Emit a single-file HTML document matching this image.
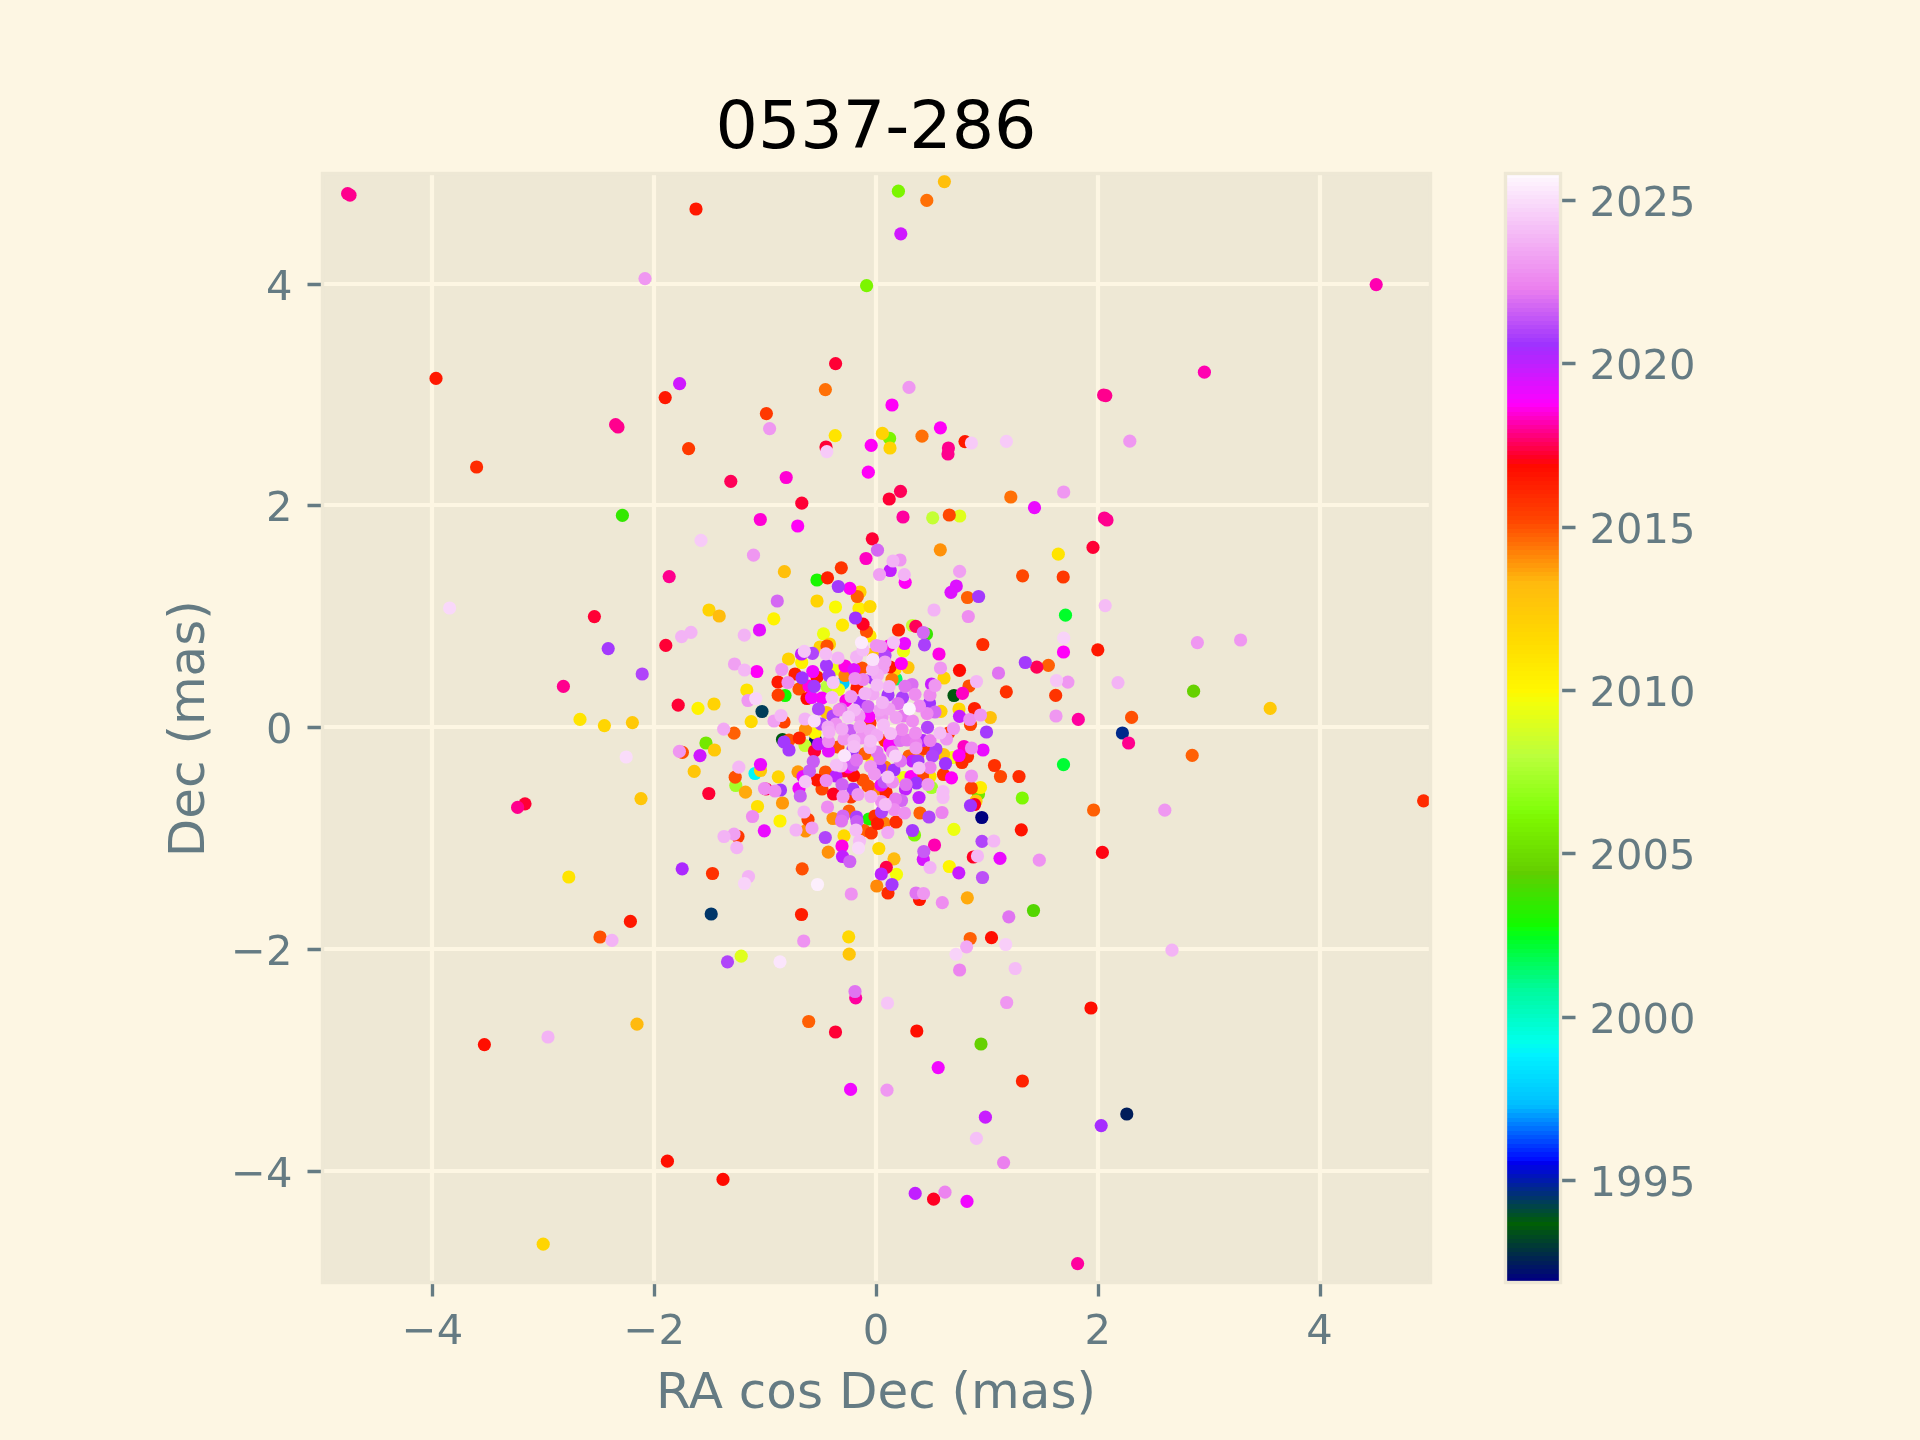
<!DOCTYPE html>
<html><head><meta charset="utf-8"><title>0537-286</title>
<style>html,body{margin:0;padding:0;background:#fdf6e3;width:1920px;height:1440px;overflow:hidden}</style>
</head><body>
<svg width="1920" height="1440" viewBox="0 0 1920 1440" style="display:block;will-change:transform">
<defs><clipPath id="ax"><rect x="322" y="173" width="1108" height="1109"/></clipPath></defs>
<rect x="0" y="0" width="1920" height="1440" fill="#fdf6e3"/>
<rect x="322" y="173" width="1108" height="1109" fill="#eee8d5"/>
<path d="M432 1282V173M654 1282V173M876 1282V173M1098 1282V173M1320 1282V173M322 1171H1430M322 949H1430M322 727H1430M322 505H1430M322 284H1430" clip-path="url(#ax)" fill="none" stroke="#fdf6e3" stroke-width="4.17"/>
<path d="M432.5 1282.5V1296.5M654.5 1282.5V1296.5M876.5 1282.5V1296.5M1098.5 1282.5V1296.5M1320.5 1282.5V1296.5M322.5 1171.5H307.5M322.5 949.5H307.5M322.5 727.5H307.5M322.5 505.5H307.5M322.5 284.5H307.5" fill="none" stroke="#657b83" stroke-width="3.33"/>
<text x="432.48" y="1344" text-anchor="middle" fill="#657b83" style="font-size:41.67px;font-family:'DejaVu Sans',sans-serif">−4</text>
<text x="654.24" y="1344" text-anchor="middle" fill="#657b83" style="font-size:41.67px;font-family:'DejaVu Sans',sans-serif">−2</text>
<text x="876" y="1344" text-anchor="middle" fill="#657b83" style="font-size:41.67px;font-family:'DejaVu Sans',sans-serif">0</text>
<text x="1097.76" y="1344" text-anchor="middle" fill="#657b83" style="font-size:41.67px;font-family:'DejaVu Sans',sans-serif">2</text>
<text x="1319.52" y="1344" text-anchor="middle" fill="#657b83" style="font-size:41.67px;font-family:'DejaVu Sans',sans-serif">4</text>
<text x="292.43" y="1186.55" text-anchor="end" fill="#657b83" style="font-size:41.67px;font-family:'DejaVu Sans',sans-serif">−4</text>
<text x="292.43" y="964.79" text-anchor="end" fill="#657b83" style="font-size:41.67px;font-family:'DejaVu Sans',sans-serif">−2</text>
<text x="292.43" y="743.03" text-anchor="end" fill="#657b83" style="font-size:41.67px;font-family:'DejaVu Sans',sans-serif">0</text>
<text x="292.43" y="521.27" text-anchor="end" fill="#657b83" style="font-size:41.67px;font-family:'DejaVu Sans',sans-serif">2</text>
<text x="292.43" y="299.51" text-anchor="end" fill="#657b83" style="font-size:41.67px;font-family:'DejaVu Sans',sans-serif">4</text>
<text x="876" y="1407.62" text-anchor="middle" fill="#657b83" style="font-size:50px;font-family:'DejaVu Sans',sans-serif">RA cos Dec (mas)</text>
<text x="203.94" y="728.71" text-anchor="middle" fill="#657b83" transform="rotate(-90 203.94 728.71)" style="font-size:50px;font-family:'DejaVu Sans',sans-serif">Dec (mas)</text>
<g clip-path="url(#ax)"><circle cx="981.8" cy="817.5" r="6.6" fill="#000080"/><circle cx="815.5" cy="740" r="6.6" fill="#000f6d"/><circle cx="1126.8" cy="1114" r="6.6" fill="#001d5a"/><circle cx="782.5" cy="739.5" r="6.6" fill="#00580f"/><circle cx="954" cy="695.5" r="6.6" fill="#00580f"/><circle cx="762" cy="711.5" r="6.6" fill="#003d59"/><circle cx="711.2" cy="914" r="6.6" fill="#003669"/><circle cx="1122.4" cy="733" r="6.6" fill="#00298b"/><circle cx="843" cy="683" r="6.6" fill="#00caff"/><circle cx="755" cy="773.5" r="6.6" fill="#00f6f8"/><circle cx="896" cy="679" r="6.6" fill="#00fb68"/><circle cx="1063.5" cy="764.7" r="6.6" fill="#00fd34"/><circle cx="1065.5" cy="615.2" r="6.6" fill="#00fe2a"/><circle cx="785" cy="695.5" r="6.6" fill="#13fb00"/><circle cx="817" cy="580" r="6.6" fill="#19f700"/><circle cx="869" cy="819" r="6.6" fill="#19f700"/><circle cx="622.4" cy="515.4" r="6.6" fill="#33e800"/><circle cx="926.5" cy="634" r="6.6" fill="#39e500"/><circle cx="1033.5" cy="910.5" r="6.6" fill="#53d600"/><circle cx="1193.6" cy="691.2" r="6.6" fill="#66d100"/><circle cx="981" cy="1044" r="6.6" fill="#66d100"/><circle cx="706" cy="743" r="6.6" fill="#74e800"/><circle cx="978.5" cy="794" r="6.6" fill="#74e800"/><circle cx="898.4" cy="191.2" r="6.6" fill="#7cf500"/><circle cx="866.6" cy="285.6" r="6.6" fill="#7cf500"/><circle cx="889.6" cy="438.4" r="6.6" fill="#7cf500"/><circle cx="1022.3" cy="798" r="6.6" fill="#7ef804"/><circle cx="914.5" cy="835" r="6.6" fill="#7ef804"/><circle cx="735.8" cy="785.5" r="6.6" fill="#a4ff28"/><circle cx="931.5" cy="787.5" r="6.6" fill="#a4ff28"/><circle cx="827" cy="686.5" r="6.6" fill="#bbff3c"/><circle cx="932.7" cy="517.8" r="6.6" fill="#c4ff34"/><circle cx="805" cy="745.5" r="6.6" fill="#c4ff34"/><circle cx="912.5" cy="625.5" r="6.6" fill="#c4ff34"/><circle cx="959.7" cy="516" r="6.6" fill="#dfff1c"/><circle cx="741.2" cy="956.2" r="6.6" fill="#dfff1c"/><circle cx="823.5" cy="633.8" r="6.6" fill="#edff10"/><circle cx="837" cy="669" r="6.6" fill="#edff10"/><circle cx="838.5" cy="689.5" r="6.6" fill="#edff10"/><circle cx="903.5" cy="651" r="6.6" fill="#edff10"/><circle cx="903.5" cy="777.5" r="6.6" fill="#edff10"/><circle cx="952.5" cy="757.5" r="6.6" fill="#edff10"/><circle cx="953.9" cy="829.3" r="6.6" fill="#edff10"/><circle cx="896.5" cy="874.3" r="6.6" fill="#f6fd08"/><circle cx="835.5" cy="607" r="6.6" fill="#fafa04"/><circle cx="815" cy="733" r="6.6" fill="#fff800"/><circle cx="949.3" cy="866.5" r="6.6" fill="#fff500"/><circle cx="698" cy="708.4" r="6.6" fill="#fff300"/><circle cx="773.8" cy="618.8" r="6.6" fill="#fff300"/><circle cx="801.7" cy="662.5" r="6.6" fill="#fff300"/><circle cx="780" cy="821" r="6.6" fill="#fff300"/><circle cx="859" cy="608.5" r="6.6" fill="#ffee00"/><circle cx="980.5" cy="787.5" r="6.6" fill="#ffee00"/><circle cx="872" cy="759.5" r="6.6" fill="#ffeb00"/><circle cx="870" cy="636" r="6.6" fill="#ffe900"/><circle cx="842.5" cy="625.2" r="6.6" fill="#ffe900"/><circle cx="835.2" cy="435.6" r="6.6" fill="#ffe400"/><circle cx="580" cy="719.4" r="6.6" fill="#ffe400"/><circle cx="568.8" cy="877" r="6.6" fill="#ffe400"/><circle cx="1058.3" cy="554.2" r="6.6" fill="#ffe400"/><circle cx="746.8" cy="690" r="6.6" fill="#ffe400"/><circle cx="930" cy="776.5" r="6.6" fill="#ffe400"/><circle cx="757.5" cy="806.5" r="6.6" fill="#ffe100"/><circle cx="751.2" cy="721.7" r="6.6" fill="#ffda00"/><circle cx="870" cy="606.5" r="6.6" fill="#ffda00"/><circle cx="844" cy="835.8" r="6.6" fill="#ffda00"/><circle cx="878.8" cy="848.5" r="6.6" fill="#ffda00"/><circle cx="895" cy="669.5" r="6.6" fill="#ffd801"/><circle cx="959" cy="709" r="6.6" fill="#ffd801"/><circle cx="848.7" cy="936.8" r="6.6" fill="#ffd801"/><circle cx="604.4" cy="725.6" r="6.6" fill="#ffd502"/><circle cx="543.2" cy="1244.2" r="6.6" fill="#ffd502"/><circle cx="778.3" cy="776.8" r="6.6" fill="#ffd502"/><circle cx="882.4" cy="433.4" r="6.6" fill="#ffd303"/><circle cx="890" cy="448" r="6.6" fill="#ffd303"/><circle cx="860" cy="592" r="6.6" fill="#ffd303"/><circle cx="817" cy="601" r="6.6" fill="#ffd303"/><circle cx="709" cy="610" r="6.6" fill="#ffd303"/><circle cx="820" cy="647" r="6.6" fill="#ffd303"/><circle cx="829.5" cy="644" r="6.6" fill="#ffd303"/><circle cx="788.5" cy="659" r="6.6" fill="#ffd303"/><circle cx="714" cy="704" r="6.6" fill="#ffd303"/><circle cx="944" cy="678" r="6.6" fill="#ffd303"/><circle cx="941" cy="711.3" r="6.6" fill="#ffd303"/><circle cx="632.4" cy="722.6" r="6.6" fill="#ffc908"/><circle cx="1270.2" cy="708.4" r="6.6" fill="#ffc908"/><circle cx="826.5" cy="712.5" r="6.6" fill="#ffc908"/><circle cx="714.5" cy="750" r="6.6" fill="#ffc908"/><circle cx="760.5" cy="770.5" r="6.6" fill="#ffc908"/><circle cx="976" cy="801" r="6.6" fill="#ffc908"/><circle cx="873.5" cy="653.5" r="6.6" fill="#ffc609"/><circle cx="694.2" cy="771.4" r="6.6" fill="#ffc609"/><circle cx="641" cy="798.6" r="6.6" fill="#ffc609"/><circle cx="849.2" cy="954.2" r="6.6" fill="#ffc609"/><circle cx="908" cy="667.5" r="6.6" fill="#ffc40a"/><circle cx="943.5" cy="754.5" r="6.6" fill="#ffc40a"/><circle cx="990.3" cy="717.5" r="6.6" fill="#ffc10b"/><circle cx="944.4" cy="181.6" r="6.6" fill="#ffbf0c"/><circle cx="784.4" cy="571.7" r="6.6" fill="#ffbf0c"/><circle cx="719.2" cy="616" r="6.6" fill="#ffbc0d"/><circle cx="894" cy="858.8" r="6.6" fill="#ffbc0d"/><circle cx="637" cy="1024.2" r="6.6" fill="#ffba0e"/><circle cx="745.5" cy="792.2" r="6.6" fill="#ffaa0c"/><circle cx="967.3" cy="897.8" r="6.6" fill="#ffaa0c"/><circle cx="798" cy="771.8" r="6.6" fill="#ff990a"/><circle cx="782.5" cy="803" r="6.6" fill="#ff990a"/><circle cx="940.3" cy="549.8" r="6.6" fill="#ff9109"/><circle cx="805.5" cy="729.5" r="6.6" fill="#ff9109"/><circle cx="833" cy="818.5" r="6.6" fill="#ff9109"/><circle cx="805.5" cy="831" r="6.6" fill="#ff9109"/><circle cx="828.3" cy="852.2" r="6.6" fill="#ff9109"/><circle cx="918" cy="754.5" r="6.6" fill="#ff8908"/><circle cx="885" cy="767" r="6.6" fill="#ff8908"/><circle cx="876.5" cy="789" r="6.6" fill="#ff8908"/><circle cx="876.8" cy="886" r="6.6" fill="#ff8908"/><circle cx="845" cy="675.5" r="6.6" fill="#ff8107"/><circle cx="884" cy="823" r="6.6" fill="#ff8107"/><circle cx="892" cy="679.5" r="6.6" fill="#ff7807"/><circle cx="926.8" cy="200.4" r="6.6" fill="#ff7006"/><circle cx="825.4" cy="389.6" r="6.6" fill="#ff7006"/><circle cx="922" cy="436.2" r="6.6" fill="#ff7006"/><circle cx="1010.8" cy="497" r="6.6" fill="#ff7006"/><circle cx="1093.6" cy="810" r="6.6" fill="#ff6004"/><circle cx="857.3" cy="596.5" r="6.6" fill="#ff6004"/><circle cx="967.5" cy="597.5" r="6.6" fill="#ff6004"/><circle cx="1048.4" cy="665.3" r="6.6" fill="#ff6004"/><circle cx="808.7" cy="1021.5" r="6.6" fill="#ff6004"/><circle cx="970.2" cy="938.5" r="6.6" fill="#ff6004"/><circle cx="1192.2" cy="755.4" r="6.6" fill="#ff6004"/><circle cx="734" cy="733.2" r="6.6" fill="#ff6004"/><circle cx="865" cy="753.5" r="6.6" fill="#ff6004"/><circle cx="909" cy="756" r="6.6" fill="#ff6004"/><circle cx="849" cy="811" r="6.6" fill="#ff6004"/><circle cx="920" cy="813" r="6.6" fill="#ff6004"/><circle cx="864" cy="830.5" r="6.6" fill="#ff6004"/><circle cx="1131.6" cy="717.4" r="6.6" fill="#ff5002"/><circle cx="682.4" cy="752.4" r="6.6" fill="#ff5002"/><circle cx="600" cy="937" r="6.6" fill="#ff5002"/><circle cx="827" cy="646" r="6.6" fill="#ff5002"/><circle cx="799" cy="689" r="6.6" fill="#ff5002"/><circle cx="789" cy="740" r="6.6" fill="#ff5002"/><circle cx="866.5" cy="631.5" r="6.6" fill="#ff5002"/><circle cx="862" cy="668" r="6.6" fill="#ff5002"/><circle cx="969" cy="686" r="6.6" fill="#ff5002"/><circle cx="838" cy="747" r="6.6" fill="#ff5002"/><circle cx="735.2" cy="777.2" r="6.6" fill="#ff5002"/><circle cx="825.5" cy="772" r="6.6" fill="#ff5002"/><circle cx="802.2" cy="868.8" r="6.6" fill="#ff5002"/><circle cx="863" cy="780" r="6.6" fill="#ff5002"/><circle cx="868" cy="786" r="6.6" fill="#ff5002"/><circle cx="949.3" cy="515" r="6.6" fill="#ff4701"/><circle cx="1022.6" cy="575.8" r="6.6" fill="#ff4701"/><circle cx="1000.5" cy="776.5" r="6.6" fill="#ff4701"/><circle cx="822" cy="789" r="6.6" fill="#ff4701"/><circle cx="922.5" cy="776" r="6.6" fill="#ff4701"/><circle cx="784" cy="722" r="6.6" fill="#ff4300"/><circle cx="970.5" cy="724.5" r="6.6" fill="#ff4300"/><circle cx="778.2" cy="695.2" r="6.6" fill="#ff3e00"/><circle cx="808" cy="819.5" r="6.6" fill="#ff3e00"/><circle cx="971.3" cy="788" r="6.6" fill="#ff3e00"/><circle cx="688.6" cy="448.6" r="6.6" fill="#ff3900"/><circle cx="766.4" cy="413.6" r="6.6" fill="#ff3900"/><circle cx="1063.2" cy="577" r="6.6" fill="#ff3900"/><circle cx="948.5" cy="733" r="6.6" fill="#ff3900"/><circle cx="924" cy="748.5" r="6.6" fill="#ff3900"/><circle cx="870" cy="723" r="6.6" fill="#ff3900"/><circle cx="885" cy="740.5" r="6.6" fill="#ff3900"/><circle cx="738" cy="836.5" r="6.6" fill="#ff3900"/><circle cx="851" cy="797" r="6.6" fill="#ff3900"/><circle cx="871.3" cy="833" r="6.6" fill="#ff3900"/><circle cx="841.3" cy="567.8" r="6.6" fill="#ff3400"/><circle cx="1055.7" cy="695.4" r="6.6" fill="#ff3400"/><circle cx="943.5" cy="774.5" r="6.6" fill="#ff3400"/><circle cx="1006.3" cy="691.8" r="6.6" fill="#ff3000"/><circle cx="712.5" cy="873.5" r="6.6" fill="#ff3000"/><circle cx="875" cy="816" r="6.6" fill="#ff3000"/><circle cx="994.5" cy="765.5" r="6.6" fill="#ff3000"/><circle cx="982.8" cy="644.5" r="6.6" fill="#ff2b00"/><circle cx="967.5" cy="756.5" r="6.6" fill="#ff2b00"/><circle cx="962" cy="762.5" r="6.6" fill="#ff2b00"/><circle cx="1019" cy="776.5" r="6.6" fill="#ff2b00"/><circle cx="476.6" cy="467" r="6.6" fill="#ff2b00"/><circle cx="1423.6" cy="800.8" r="6.6" fill="#ff2b00"/><circle cx="896" cy="822" r="6.6" fill="#ff2b00"/><circle cx="888" cy="893" r="6.6" fill="#ff2b00"/><circle cx="1022.4" cy="1081" r="6.6" fill="#ff2100"/><circle cx="827.5" cy="577.8" r="6.6" fill="#ff2100"/><circle cx="799.3" cy="738" r="6.6" fill="#ff2100"/><circle cx="898.5" cy="630" r="6.6" fill="#ff2100"/><circle cx="886" cy="792" r="6.6" fill="#ff2100"/><circle cx="795" cy="674" r="6.6" fill="#ff1d00"/><circle cx="857" cy="688" r="6.6" fill="#ff1d00"/><circle cx="974.5" cy="708.5" r="6.6" fill="#ff1d00"/><circle cx="877.5" cy="823.5" r="6.6" fill="#ff1d00"/><circle cx="801.5" cy="914.5" r="6.6" fill="#ff1d00"/><circle cx="696" cy="209" r="6.6" fill="#ff1800"/><circle cx="436" cy="378.4" r="6.6" fill="#ff1800"/><circle cx="665.2" cy="397.6" r="6.6" fill="#ff1800"/><circle cx="965" cy="441.6" r="6.6" fill="#ff1800"/><circle cx="1097.8" cy="649.8" r="6.6" fill="#ff1800"/><circle cx="630.4" cy="921.4" r="6.6" fill="#ff1800"/><circle cx="817" cy="677" r="6.6" fill="#ff1800"/><circle cx="778" cy="682" r="6.6" fill="#ff1800"/><circle cx="890" cy="667" r="6.6" fill="#ff1800"/><circle cx="919.5" cy="899.5" r="6.6" fill="#ff1800"/><circle cx="817" cy="780" r="6.6" fill="#ff1300"/><circle cx="1021.3" cy="829.8" r="6.6" fill="#ff1300"/><circle cx="1091" cy="1008" r="6.6" fill="#ff0e00"/><circle cx="484.4" cy="1044.6" r="6.6" fill="#ff0e00"/><circle cx="667.4" cy="1161.2" r="6.6" fill="#ff0e00"/><circle cx="991.5" cy="937.7" r="6.6" fill="#ff0e00"/><circle cx="916.8" cy="1031" r="6.6" fill="#ff0e00"/><circle cx="807" cy="698.5" r="6.6" fill="#ff0e00"/><circle cx="853.5" cy="775.5" r="6.6" fill="#ff0e00"/><circle cx="723" cy="1179.4" r="6.6" fill="#ff0a00"/><circle cx="959.5" cy="670.3" r="6.6" fill="#ff0a00"/><circle cx="1102.4" cy="852.4" r="6.6" fill="#ff0512"/><circle cx="933.6" cy="1199.2" r="6.6" fill="#ff0023"/><circle cx="863" cy="624.2" r="6.6" fill="#ff0023"/><circle cx="833.5" cy="794" r="6.6" fill="#ff0023"/><circle cx="974.5" cy="804.5" r="6.6" fill="#ff0023"/><circle cx="973.3" cy="857" r="6.6" fill="#ff0023"/><circle cx="835.6" cy="363.6" r="6.6" fill="#ff0035"/><circle cx="826" cy="447" r="6.6" fill="#ff0035"/><circle cx="594.4" cy="616.6" r="6.6" fill="#ff0035"/><circle cx="665.8" cy="645.4" r="6.6" fill="#ff0035"/><circle cx="678.2" cy="705.2" r="6.6" fill="#ff0035"/><circle cx="1093" cy="547.4" r="6.6" fill="#ff0035"/><circle cx="525" cy="803.8" r="6.6" fill="#ff0035"/><circle cx="801.8" cy="503.2" r="6.6" fill="#ff0035"/><circle cx="889.2" cy="499" r="6.6" fill="#ff0035"/><circle cx="872.3" cy="538.8" r="6.6" fill="#ff0035"/><circle cx="814.5" cy="751" r="6.6" fill="#ff0035"/><circle cx="708.8" cy="793.5" r="6.6" fill="#ff0035"/><circle cx="844" cy="771" r="6.6" fill="#ff0035"/><circle cx="835.5" cy="1032" r="6.6" fill="#ff0035"/><circle cx="886.3" cy="867.3" r="6.6" fill="#ff0047"/><circle cx="900.5" cy="491.3" r="6.6" fill="#ff0058"/><circle cx="915.8" cy="626.3" r="6.6" fill="#ff0058"/><circle cx="1036.8" cy="667.2" r="6.6" fill="#ff0058"/><circle cx="766" cy="789" r="6.6" fill="#ff0058"/><circle cx="730.8" cy="481.3" r="6.6" fill="#ff0058"/><circle cx="347.6" cy="193.6" r="6.6" fill="#ff008e"/><circle cx="350" cy="195.2" r="6.6" fill="#ff008e"/><circle cx="615.6" cy="424.6" r="6.6" fill="#ff008e"/><circle cx="618" cy="427" r="6.6" fill="#ff008e"/><circle cx="948.4" cy="448" r="6.6" fill="#ff008e"/><circle cx="948" cy="454" r="6.6" fill="#ff008e"/><circle cx="1103.6" cy="395" r="6.6" fill="#ff008e"/><circle cx="1105.8" cy="395.6" r="6.6" fill="#ff008e"/><circle cx="669.2" cy="576.6" r="6.6" fill="#ff008e"/><circle cx="563.4" cy="686.4" r="6.6" fill="#ff008e"/><circle cx="1104.4" cy="518" r="6.6" fill="#ff008e"/><circle cx="1107" cy="520" r="6.6" fill="#ff008e"/><circle cx="1128.6" cy="743" r="6.6" fill="#ff008e"/><circle cx="517.6" cy="807.4" r="6.6" fill="#ff008e"/><circle cx="1077.6" cy="1263.6" r="6.6" fill="#ff009f"/><circle cx="903" cy="517" r="6.6" fill="#ff009f"/><circle cx="1078.3" cy="719.4" r="6.6" fill="#ff009f"/><circle cx="855.7" cy="997.8" r="6.6" fill="#ff009f"/><circle cx="1376.2" cy="284.6" r="6.6" fill="#ff00b1"/><circle cx="1204.4" cy="372.2" r="6.6" fill="#ff00b1"/><circle cx="934.5" cy="845" r="6.6" fill="#ff00b1"/><circle cx="866" cy="558.5" r="6.6" fill="#ff00c3"/><circle cx="962.5" cy="693.3" r="6.6" fill="#ff00c3"/><circle cx="964" cy="746.5" r="6.6" fill="#ff00c3"/><circle cx="786.2" cy="477.5" r="6.6" fill="#ff00d5"/><circle cx="760.3" cy="519.5" r="6.6" fill="#ff00d5"/><circle cx="809" cy="686" r="6.6" fill="#ff00e6"/><circle cx="888.8" cy="646" r="6.6" fill="#ff00e6"/><circle cx="845" cy="666" r="6.6" fill="#ff00e6"/><circle cx="939" cy="654" r="6.6" fill="#ff00e6"/><circle cx="846" cy="700.5" r="6.6" fill="#ff00e6"/><circle cx="842" cy="846" r="6.6" fill="#ff00e6"/><circle cx="848.5" cy="767" r="6.6" fill="#ff00f8"/><circle cx="911" cy="776.5" r="6.6" fill="#ff00f8"/><circle cx="892" cy="405" r="6.6" fill="#ff00f8"/><circle cx="940.4" cy="427.8" r="6.6" fill="#ff00f8"/><circle cx="871.2" cy="445.4" r="6.6" fill="#ff00f8"/><circle cx="868.3" cy="472.2" r="6.6" fill="#ff00f8"/><circle cx="797.7" cy="526" r="6.6" fill="#ff00f8"/><circle cx="849.8" cy="588.3" r="6.6" fill="#ff00f8"/><circle cx="905.2" cy="582.3" r="6.6" fill="#ff00f8"/><circle cx="756.8" cy="671.5" r="6.6" fill="#ff00f8"/><circle cx="901.3" cy="663.5" r="6.6" fill="#ff00f8"/><circle cx="889.5" cy="744" r="6.6" fill="#ff00f8"/><circle cx="1063.5" cy="652" r="6.6" fill="#ff00f8"/><circle cx="959" cy="755.5" r="6.6" fill="#ff00f8"/><circle cx="951.5" cy="777.8" r="6.6" fill="#ff00f8"/><circle cx="822" cy="698" r="6.6" fill="#f803fc"/><circle cx="869" cy="716.5" r="6.6" fill="#f803fc"/><circle cx="890" cy="747" r="6.6" fill="#f803fc"/><circle cx="938.2" cy="1067.6" r="6.6" fill="#f107ff"/><circle cx="850.6" cy="1089.4" r="6.6" fill="#f107ff"/><circle cx="967" cy="1201.4" r="6.6" fill="#f107ff"/><circle cx="812.8" cy="671.5" r="6.6" fill="#f107ff"/><circle cx="811.5" cy="697.5" r="6.6" fill="#f107ff"/><circle cx="799" cy="788.5" r="6.6" fill="#f107ff"/><circle cx="1034.5" cy="507.7" r="6.6" fill="#ea0aff"/><circle cx="983" cy="750" r="6.6" fill="#ea0aff"/><circle cx="904.5" cy="643.5" r="6.6" fill="#ea0aff"/><circle cx="760.5" cy="764.5" r="6.6" fill="#ea0aff"/><circle cx="803" cy="776.5" r="6.6" fill="#ea0aff"/><circle cx="764.3" cy="830.8" r="6.6" fill="#ea0aff"/><circle cx="881" cy="785" r="6.6" fill="#ea0aff"/><circle cx="1000" cy="858.3" r="6.6" fill="#ea0aff"/><circle cx="759.5" cy="630" r="6.6" fill="#e40eff"/><circle cx="828.5" cy="751" r="6.6" fill="#e40eff"/><circle cx="956.3" cy="586" r="6.6" fill="#dd11ff"/><circle cx="951" cy="592.3" r="6.6" fill="#dd11ff"/><circle cx="854" cy="669.5" r="6.6" fill="#dd11ff"/><circle cx="923.3" cy="859.5" r="6.6" fill="#d615ff"/><circle cx="679.6" cy="383.6" r="6.6" fill="#cf18ff"/><circle cx="900.8" cy="233.8" r="6.6" fill="#cf18ff"/><circle cx="700" cy="755.6" r="6.6" fill="#cf18ff"/><circle cx="985.4" cy="1117.2" r="6.6" fill="#c81cff"/><circle cx="931.5" cy="684" r="6.6" fill="#c81cff"/><circle cx="959.5" cy="716.3" r="6.6" fill="#c81cff"/><circle cx="958.8" cy="872.8" r="6.6" fill="#c81cff"/><circle cx="915.2" cy="1193.4" r="6.6" fill="#c11fff"/><circle cx="890.2" cy="570.5" r="6.6" fill="#c11fff"/><circle cx="801.5" cy="654" r="6.6" fill="#c11fff"/><circle cx="818.5" cy="744" r="6.6" fill="#c11fff"/><circle cx="912.5" cy="761" r="6.6" fill="#c11fff"/><circle cx="905.5" cy="789" r="6.6" fill="#c11fff"/><circle cx="919" cy="797.5" r="6.6" fill="#c11fff"/><circle cx="842.5" cy="856.5" r="6.6" fill="#c11fff"/><circle cx="881.3" cy="874" r="6.6" fill="#ba22ff"/><circle cx="836" cy="776" r="6.6" fill="#ba22ff"/><circle cx="923" cy="740.5" r="6.6" fill="#b326ff"/><circle cx="682.2" cy="868.8" r="6.6" fill="#ac29ff"/><circle cx="1101.2" cy="1125.6" r="6.6" fill="#a62dff"/><circle cx="860" cy="702" r="6.6" fill="#a62dff"/><circle cx="880" cy="767.5" r="6.6" fill="#a62dff"/><circle cx="802" cy="677.8" r="6.6" fill="#9f33fe"/><circle cx="855.5" cy="618" r="6.6" fill="#9f33fe"/><circle cx="929.5" cy="703" r="6.6" fill="#9f33fe"/><circle cx="894" cy="770" r="6.6" fill="#9f33fe"/><circle cx="916.5" cy="783" r="6.6" fill="#9f33fe"/><circle cx="945.5" cy="763.5" r="6.6" fill="#9f33fe"/><circle cx="970.5" cy="805.5" r="6.6" fill="#9f33fe"/><circle cx="608.2" cy="648.6" r="6.6" fill="#a439fd"/><circle cx="838.3" cy="586.5" r="6.6" fill="#a439fd"/><circle cx="978.6" cy="596.5" r="6.6" fill="#a439fd"/><circle cx="826.5" cy="665.5" r="6.6" fill="#a439fd"/><circle cx="829" cy="675.5" r="6.6" fill="#a439fd"/><circle cx="814.2" cy="686.3" r="6.6" fill="#a439fd"/><circle cx="784" cy="742" r="6.6" fill="#a439fd"/><circle cx="1025.3" cy="662.5" r="6.6" fill="#a439fd"/><circle cx="888" cy="695" r="6.6" fill="#a439fd"/><circle cx="986.5" cy="732" r="6.6" fill="#a439fd"/><circle cx="789" cy="750" r="6.6" fill="#a439fd"/><circle cx="780.5" cy="790" r="6.6" fill="#a439fd"/><circle cx="853" cy="749.5" r="6.6" fill="#a439fd"/><circle cx="918" cy="761" r="6.6" fill="#a439fd"/><circle cx="853" cy="789" r="6.6" fill="#a439fd"/><circle cx="912.5" cy="830.5" r="6.6" fill="#a439fd"/><circle cx="892" cy="884.5" r="6.6" fill="#a439fd"/><circle cx="873" cy="678" r="6.6" fill="#a439fd"/><circle cx="936" cy="749" r="6.6" fill="#aa3ffb"/><circle cx="856.5" cy="817" r="6.6" fill="#aa3ffb"/><circle cx="924.5" cy="644.8" r="6.6" fill="#aa3ffb"/><circle cx="902.5" cy="697.5" r="6.6" fill="#aa3ffb"/><circle cx="642.2" cy="674" r="6.6" fill="#b044fa"/><circle cx="812.5" cy="653.3" r="6.6" fill="#b044fa"/><circle cx="818.5" cy="709" r="6.6" fill="#b044fa"/><circle cx="885" cy="655.5" r="6.6" fill="#b044fa"/><circle cx="927.5" cy="727.3" r="6.6" fill="#b044fa"/><circle cx="825.3" cy="837.5" r="6.6" fill="#b044fa"/><circle cx="932.5" cy="756" r="6.6" fill="#b044fa"/><circle cx="881.5" cy="812" r="6.6" fill="#b044fa"/><circle cx="929" cy="817" r="6.6" fill="#b044fa"/><circle cx="982" cy="841.3" r="6.6" fill="#b044fa"/><circle cx="727.5" cy="961.8" r="6.6" fill="#b044fa"/><circle cx="833" cy="716" r="6.6" fill="#b044fa"/><circle cx="821" cy="724" r="6.6" fill="#b044fa"/><circle cx="982.5" cy="877.5" r="6.6" fill="#bc50f8"/><circle cx="884" cy="782" r="6.6" fill="#c256f7"/><circle cx="850" cy="730.5" r="6.6" fill="#c85cf5"/><circle cx="813.3" cy="761.5" r="6.6" fill="#c85cf5"/><circle cx="809.5" cy="771" r="6.6" fill="#c85cf5"/><circle cx="800.3" cy="796" r="6.6" fill="#c85cf5"/><circle cx="857" cy="821.5" r="6.6" fill="#c85cf5"/><circle cx="923.8" cy="851.5" r="6.6" fill="#c85cf5"/><circle cx="853" cy="765" r="6.6" fill="#ce62f4"/><circle cx="842" cy="784.5" r="6.6" fill="#ce62f4"/><circle cx="849.8" cy="861.5" r="6.6" fill="#ce62f4"/><circle cx="877.5" cy="550.2" r="6.6" fill="#d468f3"/><circle cx="777.3" cy="601" r="6.6" fill="#d468f3"/><circle cx="923.3" cy="632.5" r="6.6" fill="#d468f3"/><circle cx="868" cy="706.5" r="6.6" fill="#d468f3"/><circle cx="935" cy="712" r="6.6" fill="#d468f3"/><circle cx="901.5" cy="800.5" r="6.6" fill="#d468f3"/><circle cx="843" cy="816" r="6.6" fill="#d468f3"/><circle cx="912" cy="684.5" r="6.6" fill="#da6ef2"/><circle cx="841" cy="709" r="6.6" fill="#e074f1"/><circle cx="841.5" cy="821" r="6.6" fill="#e074f1"/><circle cx="998.5" cy="673" r="6.6" fill="#e074f1"/><circle cx="905" cy="686.3" r="6.6" fill="#e074f1"/><circle cx="898" cy="703.5" r="6.6" fill="#e074f1"/><circle cx="900" cy="740.5" r="6.6" fill="#e074f1"/><circle cx="877" cy="752" r="6.6" fill="#e074f1"/><circle cx="856.5" cy="760" r="6.6" fill="#e074f1"/><circle cx="880" cy="758.5" r="6.6" fill="#e074f1"/><circle cx="900.5" cy="761" r="6.6" fill="#e074f1"/><circle cx="906" cy="784.5" r="6.6" fill="#e074f1"/><circle cx="916" cy="893" r="6.6" fill="#e074f1"/><circle cx="855" cy="991.5" r="6.6" fill="#e074f1"/><circle cx="1008.8" cy="916.8" r="6.6" fill="#e074f1"/><circle cx="895.5" cy="799" r="6.6" fill="#e67aef"/><circle cx="903" cy="716" r="6.6" fill="#e67aef"/><circle cx="907" cy="740" r="6.6" fill="#e67aef"/><circle cx="1003.6" cy="1162.6" r="6.6" fill="#eb80ee"/><circle cx="916" cy="743" r="6.6" fill="#eb80ee"/><circle cx="930" cy="740.5" r="6.6" fill="#eb80ee"/><circle cx="930" cy="767.5" r="6.6" fill="#eb80ee"/><circle cx="945" cy="1192.2" r="6.6" fill="#ec84ef"/><circle cx="839" cy="710" r="6.6" fill="#ec84ef"/><circle cx="863" cy="679.5" r="6.6" fill="#ec84ef"/><circle cx="942" cy="812.5" r="6.6" fill="#ec84ef"/><circle cx="959.6" cy="970" r="6.6" fill="#ec84ef"/><circle cx="930" cy="695" r="6.6" fill="#ed89ef"/><circle cx="927" cy="713.5" r="6.6" fill="#ed89ef"/><circle cx="902" cy="729.5" r="6.6" fill="#ed89ef"/><circle cx="892.5" cy="752" r="6.6" fill="#ed89ef"/><circle cx="788" cy="682.5" r="6.6" fill="#ee8df0"/><circle cx="828.5" cy="741.5" r="6.6" fill="#ee8df0"/><circle cx="968.3" cy="616.5" r="6.6" fill="#ee8df0"/><circle cx="855" cy="678.5" r="6.6" fill="#ee8df0"/><circle cx="915" cy="694.3" r="6.6" fill="#ee8df0"/><circle cx="919.5" cy="706" r="6.6" fill="#ee8df0"/><circle cx="912.5" cy="721" r="6.6" fill="#ee8df0"/><circle cx="915.5" cy="733" r="6.6" fill="#ee8df0"/><circle cx="969.8" cy="719.5" r="6.6" fill="#ee8df0"/><circle cx="826.2" cy="780.5" r="6.6" fill="#ee8df0"/><circle cx="764.5" cy="788.5" r="6.6" fill="#ee8df0"/><circle cx="775" cy="791" r="6.6" fill="#ee8df0"/><circle cx="752.5" cy="816.5" r="6.6" fill="#ee8df0"/><circle cx="827.5" cy="807" r="6.6" fill="#ee8df0"/><circle cx="892.5" cy="782" r="6.6" fill="#ee8df0"/><circle cx="881.5" cy="801.5" r="6.6" fill="#ee8df0"/><circle cx="894" cy="809.5" r="6.6" fill="#ee8df0"/><circle cx="971.5" cy="748" r="6.6" fill="#ee8df0"/><circle cx="942.3" cy="902.7" r="6.6" fill="#ee8df0"/><circle cx="876.5" cy="645.5" r="6.6" fill="#ee92f1"/><circle cx="904.5" cy="813" r="6.6" fill="#ee92f1"/><circle cx="851.3" cy="894" r="6.6" fill="#ee92f1"/><circle cx="1039.3" cy="860.2" r="6.6" fill="#ee92f1"/><circle cx="803.7" cy="941" r="6.6" fill="#ee92f1"/><circle cx="861" cy="738" r="6.6" fill="#ee92f1"/><circle cx="836" cy="724" r="6.6" fill="#ee92f1"/><circle cx="881" cy="646.5" r="6.6" fill="#ee92f1"/><circle cx="971.5" cy="776" r="6.6" fill="#ee92f1"/><circle cx="645" cy="278.6" r="6.6" fill="#ef97f1"/><circle cx="909" cy="387.4" r="6.6" fill="#ef97f1"/><circle cx="769.6" cy="428.6" r="6.6" fill="#ef97f1"/><circle cx="1129.8" cy="441.2" r="6.6" fill="#ef97f1"/><circle cx="1197.4" cy="642.6" r="6.6" fill="#ef97f1"/><circle cx="1240.6" cy="640" r="6.6" fill="#ef97f1"/><circle cx="679.4" cy="751.4" r="6.6" fill="#ef97f1"/><circle cx="1164.8" cy="810.2" r="6.6" fill="#ef97f1"/><circle cx="887" cy="1090.2" r="6.6" fill="#ef97f1"/><circle cx="753.5" cy="555.2" r="6.6" fill="#ef97f1"/><circle cx="1063.7" cy="492" r="6.6" fill="#ef97f1"/><circle cx="900" cy="560" r="6.6" fill="#ef97f1"/><circle cx="781.8" cy="669.5" r="6.6" fill="#ef97f1"/><circle cx="748" cy="700.5" r="6.6" fill="#ef97f1"/><circle cx="940.5" cy="668" r="6.6" fill="#ef97f1"/><circle cx="935" cy="685.5" r="6.6" fill="#ef97f1"/><circle cx="851" cy="696.5" r="6.6" fill="#ef97f1"/><circle cx="980.5" cy="715" r="6.6" fill="#ef97f1"/><circle cx="953.5" cy="728.5" r="6.6" fill="#ef97f1"/><circle cx="946.5" cy="739" r="6.6" fill="#ef97f1"/><circle cx="1067.9" cy="682.1" r="6.6" fill="#ef97f1"/><circle cx="1056" cy="716" r="6.6" fill="#ef97f1"/><circle cx="916" cy="748" r="6.6" fill="#ef97f1"/><circle cx="870.5" cy="766.5" r="6.6" fill="#ef97f1"/><circle cx="874.5" cy="774" r="6.6" fill="#ef97f1"/><circle cx="928" cy="784.5" r="6.6" fill="#ef97f1"/><circle cx="843" cy="796.5" r="6.6" fill="#ef97f1"/><circle cx="858" cy="794.5" r="6.6" fill="#ef97f1"/><circle cx="923.5" cy="893.5" r="6.6" fill="#ef97f1"/><circle cx="1006.7" cy="1002.5" r="6.6" fill="#ef97f1"/><circle cx="859" cy="716" r="6.6" fill="#ef97f1"/><circle cx="882" cy="717" r="6.6" fill="#ef97f1"/><circle cx="844" cy="739" r="6.6" fill="#ef97f1"/><circle cx="774" cy="721" r="6.6" fill="#f0a0f2"/><circle cx="885" cy="662" r="6.6" fill="#f0a0f2"/><circle cx="880" cy="710" r="6.6" fill="#f0a0f2"/><circle cx="889" cy="709" r="6.6" fill="#f0a0f2"/><circle cx="896" cy="717.5" r="6.6" fill="#f0a0f2"/><circle cx="860" cy="726.5" r="6.6" fill="#f0a0f2"/><circle cx="870" cy="730.5" r="6.6" fill="#f0a0f2"/><circle cx="812" cy="828" r="6.6" fill="#f0a0f2"/><circle cx="734" cy="834.2" r="6.6" fill="#f0a0f2"/><circle cx="879.5" cy="574.5" r="6.6" fill="#f0a0f2"/><circle cx="959.6" cy="571.3" r="6.6" fill="#f0a0f2"/><circle cx="734.5" cy="664" r="6.6" fill="#f0a0f2"/><circle cx="883" cy="668" r="6.6" fill="#f0a0f2"/><circle cx="723.7" cy="729.2" r="6.6" fill="#f2a9f4"/><circle cx="842" cy="729" r="6.6" fill="#f2a9f4"/><circle cx="871" cy="796.5" r="6.6" fill="#f2a9f4"/><circle cx="887.8" cy="832.5" r="6.6" fill="#f2a9f4"/><circle cx="966.6" cy="946.8" r="6.6" fill="#f2a9f4"/><circle cx="873" cy="694" r="6.6" fill="#f2a9f4"/><circle cx="877" cy="735" r="6.6" fill="#f2a9f4"/><circle cx="828" cy="727" r="6.6" fill="#f2a9f4"/><circle cx="877.5" cy="675" r="6.6" fill="#f3aef4"/><circle cx="829" cy="732" r="6.6" fill="#f3aef4"/><circle cx="681.6" cy="636.6" r="6.6" fill="#f3b3f5"/><circle cx="691" cy="632.4" r="6.6" fill="#f3b3f5"/><circle cx="1118" cy="682.6" r="6.6" fill="#f3b3f5"/><circle cx="612" cy="940.4" r="6.6" fill="#f3b3f5"/><circle cx="1172" cy="950.2" r="6.6" fill="#f3b3f5"/><circle cx="548" cy="1037" r="6.6" fill="#f3b3f5"/><circle cx="893" cy="561" r="6.6" fill="#f3b3f5"/><circle cx="904.3" cy="574.7" r="6.6" fill="#f3b3f5"/><circle cx="744.3" cy="635.2" r="6.6" fill="#f3b3f5"/><circle cx="838" cy="658" r="6.6" fill="#f3b3f5"/><circle cx="805" cy="719" r="6.6" fill="#f3b3f5"/><circle cx="856.5" cy="656.8" r="6.6" fill="#f3b3f5"/><circle cx="872.5" cy="669.5" r="6.6" fill="#f3b3f5"/><circle cx="934" cy="610" r="6.6" fill="#f3b3f5"/><circle cx="889" cy="686.5" r="6.6" fill="#f3b3f5"/><circle cx="865" cy="693.5" r="6.6" fill="#f3b3f5"/><circle cx="882.5" cy="702.5" r="6.6" fill="#f3b3f5"/><circle cx="854" cy="740.5" r="6.6" fill="#f3b3f5"/><circle cx="804" cy="812" r="6.6" fill="#f3b3f5"/><circle cx="796" cy="830" r="6.6" fill="#f3b3f5"/><circle cx="724" cy="836.5" r="6.6" fill="#f3b3f5"/><circle cx="736.8" cy="847.7" r="6.6" fill="#f3b3f5"/><circle cx="748.5" cy="876.5" r="6.6" fill="#f3b3f5"/><circle cx="870" cy="747.5" r="6.6" fill="#f3b3f5"/><circle cx="841" cy="766" r="6.6" fill="#f3b3f5"/><circle cx="930" cy="867.5" r="6.6" fill="#f3b3f5"/><circle cx="744.5" cy="670" r="6.6" fill="#f4b7f5"/><circle cx="781" cy="715.5" r="6.6" fill="#f4b7f5"/><circle cx="854.5" cy="710" r="6.6" fill="#f4b7f5"/><circle cx="976.5" cy="681.5" r="6.6" fill="#f4b7f5"/><circle cx="738.8" cy="767.2" r="6.6" fill="#f4b7f5"/><circle cx="993.8" cy="841" r="6.6" fill="#f4b7f5"/><circle cx="977.5" cy="856" r="6.6" fill="#f4b7f5"/><circle cx="1105.2" cy="605.6" r="6.6" fill="#f5bcf6"/><circle cx="863" cy="650" r="6.6" fill="#f5bcf6"/><circle cx="877" cy="685" r="6.6" fill="#f5bcf6"/><circle cx="883.5" cy="725" r="6.6" fill="#f5bcf6"/><circle cx="890.5" cy="733.5" r="6.6" fill="#f5bcf6"/><circle cx="870.5" cy="741" r="6.6" fill="#f5bcf6"/><circle cx="940" cy="733" r="6.6" fill="#f5bcf6"/><circle cx="854" cy="746.5" r="6.6" fill="#f5bcf6"/><circle cx="919" cy="768" r="6.6" fill="#f5bcf6"/><circle cx="885.3" cy="804.5" r="6.6" fill="#f5bcf6"/><circle cx="943" cy="791.5" r="6.6" fill="#f5bcf6"/><circle cx="943" cy="797.5" r="6.6" fill="#f5bcf6"/><circle cx="856" cy="830" r="6.6" fill="#f5bcf6"/><circle cx="859.5" cy="841" r="6.6" fill="#f5bcf6"/><circle cx="1015.2" cy="968.5" r="6.6" fill="#f5bcf6"/><circle cx="825.8" cy="653.8" r="6.6" fill="#f5bcf6"/><circle cx="832" cy="697.5" r="6.6" fill="#f5bcf6"/><circle cx="976.4" cy="1138.4" r="6.6" fill="#f5c0f7"/><circle cx="893.5" cy="642.5" r="6.6" fill="#f5c0f7"/><circle cx="836.5" cy="765" r="6.6" fill="#f5c0f7"/><circle cx="888" cy="777" r="6.6" fill="#f5c0f7"/><circle cx="804.3" cy="651.3" r="6.6" fill="#f6c5f7"/><circle cx="833.2" cy="682.5" r="6.6" fill="#f6c5f7"/><circle cx="848.5" cy="717" r="6.6" fill="#f6c5f7"/><circle cx="1056.5" cy="680.5" r="6.6" fill="#f6c5f7"/><circle cx="805.3" cy="781.7" r="6.6" fill="#f6c5f7"/><circle cx="887.5" cy="1003" r="6.6" fill="#f6c5f7"/><circle cx="826.8" cy="451.6" r="6.6" fill="#f7caf8"/><circle cx="971.4" cy="443" r="6.6" fill="#f7caf8"/><circle cx="1006.4" cy="441.4" r="6.6" fill="#f7caf8"/><circle cx="701" cy="540.4" r="6.6" fill="#f7caf8"/><circle cx="895.5" cy="756" r="6.6" fill="#f8cef9"/><circle cx="1005.7" cy="944.5" r="6.6" fill="#f8cef9"/><circle cx="755.7" cy="698.5" r="6.6" fill="#f8d3f9"/><circle cx="1063.7" cy="638.2" r="6.6" fill="#f8d3f9"/><circle cx="744.5" cy="883.5" r="6.6" fill="#f8d3f9"/><circle cx="956" cy="954.3" r="6.6" fill="#f8d3f9"/><circle cx="449.6" cy="608" r="6.6" fill="#f9d8fa"/><circle cx="858.5" cy="848" r="6.6" fill="#f9d8fa"/><circle cx="626.2" cy="757" r="6.6" fill="#fadcfa"/><circle cx="814.3" cy="721" r="6.6" fill="#fadcfa"/><circle cx="872.8" cy="659.5" r="6.6" fill="#fae1fb"/><circle cx="844.5" cy="755.5" r="6.6" fill="#fbe5fc"/><circle cx="780" cy="961.8" r="6.6" fill="#fbe5fc"/><circle cx="861.5" cy="642.5" r="6.6" fill="#fceafc"/><circle cx="817.5" cy="884.5" r="6.6" fill="#fdeffd"/><circle cx="909.3" cy="708.8" r="6.6" fill="#fdf3fd"/></g>
<rect x="322.5" y="173.5" width="1108" height="1109" fill="none" stroke="#eee8d5" stroke-width="3.33"/>
<text x="876" y="147.8" text-anchor="middle" fill="#000000" style="font-size:66.67px;font-family:'DejaVu Sans',sans-serif">0537-286</text>
<text x="1589.41" y="1195.84" fill="#657b83" style="font-size:41.67px;font-family:'DejaVu Sans',sans-serif">1995</text>
<text x="1589.41" y="1032.5" fill="#657b83" style="font-size:41.67px;font-family:'DejaVu Sans',sans-serif">2000</text>
<text x="1589.41" y="869.17" fill="#657b83" style="font-size:41.67px;font-family:'DejaVu Sans',sans-serif">2005</text>
<text x="1589.41" y="705.84" fill="#657b83" style="font-size:41.67px;font-family:'DejaVu Sans',sans-serif">2010</text>
<text x="1589.41" y="542.51" fill="#657b83" style="font-size:41.67px;font-family:'DejaVu Sans',sans-serif">2015</text>
<text x="1589.41" y="379.17" fill="#657b83" style="font-size:41.67px;font-family:'DejaVu Sans',sans-serif">2020</text>
<text x="1589.41" y="215.84" fill="#657b83" style="font-size:41.67px;font-family:'DejaVu Sans',sans-serif">2025</text>
<path d="M1560.5 1180.5H1575.5M1560.5 1017.5H1575.5M1560.5 853.5H1575.5M1560.5 690.5H1575.5M1560.5 527.5H1575.5M1560.5 363.5H1575.5M1560.5 200.5H1575.5" fill="none" stroke="#657b83" stroke-width="3.33"/>
<g shape-rendering="crispEdges"><rect x="1505" y="1277.67" width="55" height="4.63" fill="#000080"/><rect x="1505" y="1273.34" width="55" height="4.63" fill="#000777"/><rect x="1505" y="1269" width="55" height="4.63" fill="#000f6d"/><rect x="1505" y="1264.67" width="55" height="4.63" fill="#001664"/><rect x="1505" y="1260.34" width="55" height="4.63" fill="#001d5a"/><rect x="1505" y="1256.01" width="55" height="4.63" fill="#002451"/><rect x="1505" y="1251.68" width="55" height="4.63" fill="#002c48"/><rect x="1505" y="1247.34" width="55" height="4.63" fill="#00333e"/><rect x="1505" y="1243.01" width="55" height="4.63" fill="#003a35"/><rect x="1505" y="1238.68" width="55" height="4.63" fill="#00422b"/><rect x="1505" y="1234.35" width="55" height="4.63" fill="#004922"/><rect x="1505" y="1230.02" width="55" height="4.63" fill="#005019"/><rect x="1505" y="1225.68" width="55" height="4.63" fill="#00580f"/><rect x="1505" y="1221.35" width="55" height="4.63" fill="#005f06"/><rect x="1505" y="1217.02" width="55" height="4.63" fill="#005816"/><rect x="1505" y="1212.69" width="55" height="4.63" fill="#005127"/><rect x="1505" y="1208.36" width="55" height="4.63" fill="#004b37"/><rect x="1505" y="1204.02" width="55" height="4.63" fill="#004448"/><rect x="1505" y="1199.69" width="55" height="4.63" fill="#003d59"/><rect x="1505" y="1195.36" width="55" height="4.63" fill="#003669"/><rect x="1505" y="1191.03" width="55" height="4.63" fill="#002f7a"/><rect x="1505" y="1186.7" width="55" height="4.63" fill="#00298b"/><rect x="1505" y="1182.36" width="55" height="4.63" fill="#00229b"/><rect x="1505" y="1178.03" width="55" height="4.63" fill="#001bac"/><rect x="1505" y="1173.7" width="55" height="4.63" fill="#0014bc"/><rect x="1505" y="1169.37" width="55" height="4.63" fill="#000ecd"/><rect x="1505" y="1165.04" width="55" height="4.63" fill="#0007de"/><rect x="1505" y="1160.7" width="55" height="4.63" fill="#0000ee"/><rect x="1505" y="1156.37" width="55" height="4.63" fill="#000eff"/><rect x="1505" y="1152.04" width="55" height="4.63" fill="#001cff"/><rect x="1505" y="1147.71" width="55" height="4.63" fill="#002aff"/><rect x="1505" y="1143.38" width="55" height="4.63" fill="#0038ff"/><rect x="1505" y="1139.04" width="55" height="4.63" fill="#0047ff"/><rect x="1505" y="1134.71" width="55" height="4.63" fill="#0055ff"/><rect x="1505" y="1130.38" width="55" height="4.63" fill="#0063ff"/><rect x="1505" y="1126.05" width="55" height="4.63" fill="#0071ff"/><rect x="1505" y="1121.71" width="55" height="4.63" fill="#007fff"/><rect x="1505" y="1117.38" width="55" height="4.63" fill="#008dff"/><rect x="1505" y="1113.05" width="55" height="4.63" fill="#009bff"/><rect x="1505" y="1108.72" width="55" height="4.63" fill="#00a9ff"/><rect x="1505" y="1104.39" width="55" height="4.63" fill="#00b8ff"/><rect x="1505" y="1100.05" width="55" height="4.63" fill="#00c0ff"/><rect x="1505" y="1095.72" width="55" height="4.63" fill="#00c6ff"/><rect x="1505" y="1091.39" width="55" height="4.63" fill="#00caff"/><rect x="1505" y="1087.06" width="55" height="4.63" fill="#00ceff"/><rect x="1505" y="1082.73" width="55" height="4.63" fill="#00d3ff"/><rect x="1505" y="1078.39" width="55" height="4.63" fill="#00d7ff"/><rect x="1505" y="1074.06" width="55" height="4.63" fill="#00dcff"/><rect x="1505" y="1069.73" width="55" height="4.63" fill="#00e0ff"/><rect x="1505" y="1065.4" width="55" height="4.63" fill="#00e5ff"/><rect x="1505" y="1061.07" width="55" height="4.63" fill="#00e9ff"/><rect x="1505" y="1056.73" width="55" height="4.63" fill="#00edff"/><rect x="1505" y="1052.4" width="55" height="4.63" fill="#00f2ff"/><rect x="1505" y="1048.07" width="55" height="4.63" fill="#00f6f8"/><rect x="1505" y="1043.74" width="55" height="4.63" fill="#00fbf2"/><rect x="1505" y="1039.41" width="55" height="4.63" fill="#00ffeb"/><rect x="1505" y="1035.07" width="55" height="4.63" fill="#00ffe5"/><rect x="1505" y="1030.74" width="55" height="4.63" fill="#00fede"/><rect x="1505" y="1026.41" width="55" height="4.63" fill="#00fed8"/><rect x="1505" y="1022.08" width="55" height="4.63" fill="#00fdd1"/><rect x="1505" y="1017.75" width="55" height="4.63" fill="#00fdcb"/><rect x="1505" y="1013.41" width="55" height="4.63" fill="#00fcc4"/><rect x="1505" y="1009.08" width="55" height="4.63" fill="#00fcbd"/><rect x="1505" y="1004.75" width="55" height="4.63" fill="#00fbb7"/><rect x="1505" y="1000.42" width="55" height="4.63" fill="#00fbb0"/><rect x="1505" y="996.09" width="55" height="4.63" fill="#00faaa"/><rect x="1505" y="991.75" width="55" height="4.63" fill="#00faa3"/><rect x="1505" y="987.42" width="55" height="4.63" fill="#00fa9d"/><rect x="1505" y="983.09" width="55" height="4.63" fill="#00fa92"/><rect x="1505" y="978.76" width="55" height="4.63" fill="#00fa88"/><rect x="1505" y="974.43" width="55" height="4.63" fill="#00fa7d"/><rect x="1505" y="970.09" width="55" height="4.63" fill="#00fb73"/><rect x="1505" y="965.76" width="55" height="4.63" fill="#00fb68"/><rect x="1505" y="961.43" width="55" height="4.63" fill="#00fc5e"/><rect x="1505" y="957.1" width="55" height="4.63" fill="#00fc54"/><rect x="1505" y="952.77" width="55" height="4.63" fill="#00fd49"/><rect x="1505" y="948.43" width="55" height="4.63" fill="#00fd3f"/><rect x="1505" y="944.1" width="55" height="4.63" fill="#00fd34"/><rect x="1505" y="939.77" width="55" height="4.63" fill="#00fe2a"/><rect x="1505" y="935.44" width="55" height="4.63" fill="#00fe1f"/><rect x="1505" y="931.11" width="55" height="4.63" fill="#06ff15"/><rect x="1505" y="926.77" width="55" height="4.63" fill="#0dff0b"/><rect x="1505" y="922.44" width="55" height="4.63" fill="#13fb00"/><rect x="1505" y="918.11" width="55" height="4.63" fill="#19f700"/><rect x="1505" y="913.78" width="55" height="4.63" fill="#20f400"/><rect x="1505" y="909.45" width="55" height="4.63" fill="#26f000"/><rect x="1505" y="905.11" width="55" height="4.63" fill="#2dec00"/><rect x="1505" y="900.78" width="55" height="4.63" fill="#33e800"/><rect x="1505" y="896.45" width="55" height="4.63" fill="#39e500"/><rect x="1505" y="892.12" width="55" height="4.63" fill="#40e100"/><rect x="1505" y="887.79" width="55" height="4.63" fill="#46dd00"/><rect x="1505" y="883.45" width="55" height="4.63" fill="#4cd900"/><rect x="1505" y="879.12" width="55" height="4.63" fill="#53d600"/><rect x="1505" y="874.79" width="55" height="4.63" fill="#59d200"/><rect x="1505" y="870.46" width="55" height="4.63" fill="#60ce00"/><rect x="1505" y="866.12" width="55" height="4.63" fill="#66d100"/><rect x="1505" y="861.79" width="55" height="4.63" fill="#68d500"/><rect x="1505" y="857.46" width="55" height="4.63" fill="#6ad800"/><rect x="1505" y="853.13" width="55" height="4.63" fill="#6cdb00"/><rect x="1505" y="848.8" width="55" height="4.63" fill="#6ede00"/><rect x="1505" y="844.46" width="55" height="4.63" fill="#70e200"/><rect x="1505" y="840.13" width="55" height="4.63" fill="#72e500"/><rect x="1505" y="835.8" width="55" height="4.63" fill="#74e800"/><rect x="1505" y="831.47" width="55" height="4.63" fill="#76eb00"/><rect x="1505" y="827.14" width="55" height="4.63" fill="#78ef00"/><rect x="1505" y="822.8" width="55" height="4.63" fill="#7af200"/><rect x="1505" y="818.47" width="55" height="4.63" fill="#7cf500"/><rect x="1505" y="814.14" width="55" height="4.63" fill="#7ef804"/><rect x="1505" y="809.81" width="55" height="4.63" fill="#80fc08"/><rect x="1505" y="805.48" width="55" height="4.63" fill="#84ff0c"/><rect x="1505" y="801.14" width="55" height="4.63" fill="#89ff10"/><rect x="1505" y="796.81" width="55" height="4.63" fill="#8dff14"/><rect x="1505" y="792.48" width="55" height="4.63" fill="#92ff18"/><rect x="1505" y="788.15" width="55" height="4.63" fill="#96ff1c"/><rect x="1505" y="783.82" width="55" height="4.63" fill="#9bff20"/><rect x="1505" y="779.48" width="55" height="4.63" fill="#9fff24"/><rect x="1505" y="775.15" width="55" height="4.63" fill="#a4ff28"/><rect x="1505" y="770.82" width="55" height="4.63" fill="#a9ff2c"/><rect x="1505" y="766.49" width="55" height="4.63" fill="#adff30"/><rect x="1505" y="762.16" width="55" height="4.63" fill="#b2ff34"/><rect x="1505" y="757.82" width="55" height="4.63" fill="#b6ff38"/><rect x="1505" y="753.49" width="55" height="4.63" fill="#bbff3c"/><rect x="1505" y="749.16" width="55" height="4.63" fill="#bfff38"/><rect x="1505" y="744.83" width="55" height="4.63" fill="#c4ff34"/><rect x="1505" y="740.5" width="55" height="4.63" fill="#c8ff30"/><rect x="1505" y="736.16" width="55" height="4.63" fill="#cdff2c"/><rect x="1505" y="731.83" width="55" height="4.63" fill="#d2ff28"/><rect x="1505" y="727.5" width="55" height="4.63" fill="#d6ff24"/><rect x="1505" y="723.17" width="55" height="4.63" fill="#dbff20"/><rect x="1505" y="718.84" width="55" height="4.63" fill="#dfff1c"/><rect x="1505" y="714.5" width="55" height="4.63" fill="#e4ff18"/><rect x="1505" y="710.17" width="55" height="4.63" fill="#e8ff14"/><rect x="1505" y="705.84" width="55" height="4.63" fill="#edff10"/><rect x="1505" y="701.51" width="55" height="4.63" fill="#f1ff0c"/><rect x="1505" y="697.18" width="55" height="4.63" fill="#f6fd08"/><rect x="1505" y="692.84" width="55" height="4.63" fill="#fafa04"/><rect x="1505" y="688.51" width="55" height="4.63" fill="#fff800"/><rect x="1505" y="684.18" width="55" height="4.63" fill="#fff500"/><rect x="1505" y="679.85" width="55" height="4.63" fill="#fff300"/><rect x="1505" y="675.52" width="55" height="4.63" fill="#fff000"/><rect x="1505" y="671.18" width="55" height="4.63" fill="#ffee00"/><rect x="1505" y="666.85" width="55" height="4.63" fill="#ffeb00"/><rect x="1505" y="662.52" width="55" height="4.63" fill="#ffe900"/><rect x="1505" y="658.19" width="55" height="4.63" fill="#ffe600"/><rect x="1505" y="653.86" width="55" height="4.63" fill="#ffe400"/><rect x="1505" y="649.52" width="55" height="4.63" fill="#ffe100"/><rect x="1505" y="645.19" width="55" height="4.63" fill="#ffdf00"/><rect x="1505" y="640.86" width="55" height="4.63" fill="#ffdc00"/><rect x="1505" y="636.53" width="55" height="4.63" fill="#ffda00"/><rect x="1505" y="632.2" width="55" height="4.63" fill="#ffd801"/><rect x="1505" y="627.86" width="55" height="4.63" fill="#ffd502"/><rect x="1505" y="623.53" width="55" height="4.63" fill="#ffd303"/><rect x="1505" y="619.2" width="55" height="4.63" fill="#ffd004"/><rect x="1505" y="614.87" width="55" height="4.63" fill="#ffce05"/><rect x="1505" y="610.54" width="55" height="4.63" fill="#ffcb06"/><rect x="1505" y="606.2" width="55" height="4.63" fill="#ffc908"/><rect x="1505" y="601.87" width="55" height="4.63" fill="#ffc609"/><rect x="1505" y="597.54" width="55" height="4.63" fill="#ffc40a"/><rect x="1505" y="593.21" width="55" height="4.63" fill="#ffc10b"/><rect x="1505" y="588.88" width="55" height="4.63" fill="#ffbf0c"/><rect x="1505" y="584.54" width="55" height="4.63" fill="#ffbc0d"/><rect x="1505" y="580.21" width="55" height="4.63" fill="#ffba0e"/><rect x="1505" y="575.88" width="55" height="4.63" fill="#ffb20d"/><rect x="1505" y="571.55" width="55" height="4.63" fill="#ffaa0c"/><rect x="1505" y="567.21" width="55" height="4.63" fill="#ffa10b"/><rect x="1505" y="562.88" width="55" height="4.63" fill="#ff990a"/><rect x="1505" y="558.55" width="55" height="4.63" fill="#ff9109"/><rect x="1505" y="554.22" width="55" height="4.63" fill="#ff8908"/><rect x="1505" y="549.89" width="55" height="4.63" fill="#ff8107"/><rect x="1505" y="545.55" width="55" height="4.63" fill="#ff7807"/><rect x="1505" y="541.22" width="55" height="4.63" fill="#ff7006"/><rect x="1505" y="536.89" width="55" height="4.63" fill="#ff6805"/><rect x="1505" y="532.56" width="55" height="4.63" fill="#ff6004"/><rect x="1505" y="528.23" width="55" height="4.63" fill="#ff5803"/><rect x="1505" y="523.89" width="55" height="4.63" fill="#ff5002"/><rect x="1505" y="519.56" width="55" height="4.63" fill="#ff4701"/><rect x="1505" y="515.23" width="55" height="4.63" fill="#ff4300"/><rect x="1505" y="510.9" width="55" height="4.63" fill="#ff3e00"/><rect x="1505" y="506.57" width="55" height="4.63" fill="#ff3900"/><rect x="1505" y="502.23" width="55" height="4.63" fill="#ff3400"/><rect x="1505" y="497.9" width="55" height="4.63" fill="#ff3000"/><rect x="1505" y="493.57" width="55" height="4.63" fill="#ff2b00"/><rect x="1505" y="489.24" width="55" height="4.63" fill="#ff2600"/><rect x="1505" y="484.91" width="55" height="4.63" fill="#ff2100"/><rect x="1505" y="480.57" width="55" height="4.63" fill="#ff1d00"/><rect x="1505" y="476.24" width="55" height="4.63" fill="#ff1800"/><rect x="1505" y="471.91" width="55" height="4.63" fill="#ff1300"/><rect x="1505" y="467.58" width="55" height="4.63" fill="#ff0e00"/><rect x="1505" y="463.25" width="55" height="4.63" fill="#ff0a00"/><rect x="1505" y="458.91" width="55" height="4.63" fill="#ff0512"/><rect x="1505" y="454.58" width="55" height="4.63" fill="#ff0023"/><rect x="1505" y="450.25" width="55" height="4.63" fill="#ff0035"/><rect x="1505" y="445.92" width="55" height="4.63" fill="#ff0047"/><rect x="1505" y="441.59" width="55" height="4.63" fill="#ff0058"/><rect x="1505" y="437.25" width="55" height="4.63" fill="#ff006a"/><rect x="1505" y="432.92" width="55" height="4.63" fill="#ff007c"/><rect x="1505" y="428.59" width="55" height="4.63" fill="#ff008e"/><rect x="1505" y="424.26" width="55" height="4.63" fill="#ff009f"/><rect x="1505" y="419.93" width="55" height="4.63" fill="#ff00b1"/><rect x="1505" y="415.59" width="55" height="4.63" fill="#ff00c3"/><rect x="1505" y="411.26" width="55" height="4.63" fill="#ff00d5"/><rect x="1505" y="406.93" width="55" height="4.63" fill="#ff00e6"/><rect x="1505" y="402.6" width="55" height="4.63" fill="#ff00f8"/><rect x="1505" y="398.27" width="55" height="4.63" fill="#f803fc"/><rect x="1505" y="393.93" width="55" height="4.63" fill="#f107ff"/><rect x="1505" y="389.6" width="55" height="4.63" fill="#ea0aff"/><rect x="1505" y="385.27" width="55" height="4.63" fill="#e40eff"/><rect x="1505" y="380.94" width="55" height="4.63" fill="#dd11ff"/><rect x="1505" y="376.61" width="55" height="4.63" fill="#d615ff"/><rect x="1505" y="372.27" width="55" height="4.63" fill="#cf18ff"/><rect x="1505" y="367.94" width="55" height="4.63" fill="#c81cff"/><rect x="1505" y="363.61" width="55" height="4.63" fill="#c11fff"/><rect x="1505" y="359.28" width="55" height="4.63" fill="#ba22ff"/><rect x="1505" y="354.95" width="55" height="4.63" fill="#b326ff"/><rect x="1505" y="350.61" width="55" height="4.63" fill="#ac29ff"/><rect x="1505" y="346.28" width="55" height="4.63" fill="#a62dff"/><rect x="1505" y="341.95" width="55" height="4.63" fill="#9f33fe"/><rect x="1505" y="337.62" width="55" height="4.63" fill="#a439fd"/><rect x="1505" y="333.29" width="55" height="4.63" fill="#aa3ffb"/><rect x="1505" y="328.95" width="55" height="4.63" fill="#b044fa"/><rect x="1505" y="324.62" width="55" height="4.63" fill="#b64af9"/><rect x="1505" y="320.29" width="55" height="4.63" fill="#bc50f8"/><rect x="1505" y="315.96" width="55" height="4.63" fill="#c256f7"/><rect x="1505" y="311.62" width="55" height="4.63" fill="#c85cf5"/><rect x="1505" y="307.29" width="55" height="4.63" fill="#ce62f4"/><rect x="1505" y="302.96" width="55" height="4.63" fill="#d468f3"/><rect x="1505" y="298.63" width="55" height="4.63" fill="#da6ef2"/><rect x="1505" y="294.3" width="55" height="4.63" fill="#e074f1"/><rect x="1505" y="289.96" width="55" height="4.63" fill="#e67aef"/><rect x="1505" y="285.63" width="55" height="4.63" fill="#eb80ee"/><rect x="1505" y="281.3" width="55" height="4.63" fill="#ec84ef"/><rect x="1505" y="276.97" width="55" height="4.63" fill="#ed89ef"/><rect x="1505" y="272.64" width="55" height="4.63" fill="#ee8df0"/><rect x="1505" y="268.3" width="55" height="4.63" fill="#ee92f1"/><rect x="1505" y="263.97" width="55" height="4.63" fill="#ef97f1"/><rect x="1505" y="259.64" width="55" height="4.63" fill="#f09bf2"/><rect x="1505" y="255.31" width="55" height="4.63" fill="#f0a0f2"/><rect x="1505" y="250.98" width="55" height="4.63" fill="#f1a5f3"/><rect x="1505" y="246.64" width="55" height="4.63" fill="#f2a9f4"/><rect x="1505" y="242.31" width="55" height="4.63" fill="#f3aef4"/><rect x="1505" y="237.98" width="55" height="4.63" fill="#f3b3f5"/><rect x="1505" y="233.65" width="55" height="4.63" fill="#f4b7f5"/><rect x="1505" y="229.32" width="55" height="4.63" fill="#f5bcf6"/><rect x="1505" y="224.98" width="55" height="4.63" fill="#f5c0f7"/><rect x="1505" y="220.65" width="55" height="4.63" fill="#f6c5f7"/><rect x="1505" y="216.32" width="55" height="4.63" fill="#f7caf8"/><rect x="1505" y="211.99" width="55" height="4.63" fill="#f8cef9"/><rect x="1505" y="207.66" width="55" height="4.63" fill="#f8d3f9"/><rect x="1505" y="203.32" width="55" height="4.63" fill="#f9d8fa"/><rect x="1505" y="198.99" width="55" height="4.63" fill="#fadcfa"/><rect x="1505" y="194.66" width="55" height="4.63" fill="#fae1fb"/><rect x="1505" y="190.33" width="55" height="4.63" fill="#fbe5fc"/><rect x="1505" y="186" width="55" height="4.63" fill="#fceafc"/><rect x="1505" y="181.66" width="55" height="4.63" fill="#fdeffd"/><rect x="1505" y="177.33" width="55" height="4.63" fill="#fdf3fd"/><rect x="1505" y="173" width="55" height="4.63" fill="#fef8fe"/></g>
<rect x="1505.5" y="173.5" width="55" height="1109" fill="none" stroke="#eee8d5" stroke-width="3.33"/>
</svg>
</body></html>
